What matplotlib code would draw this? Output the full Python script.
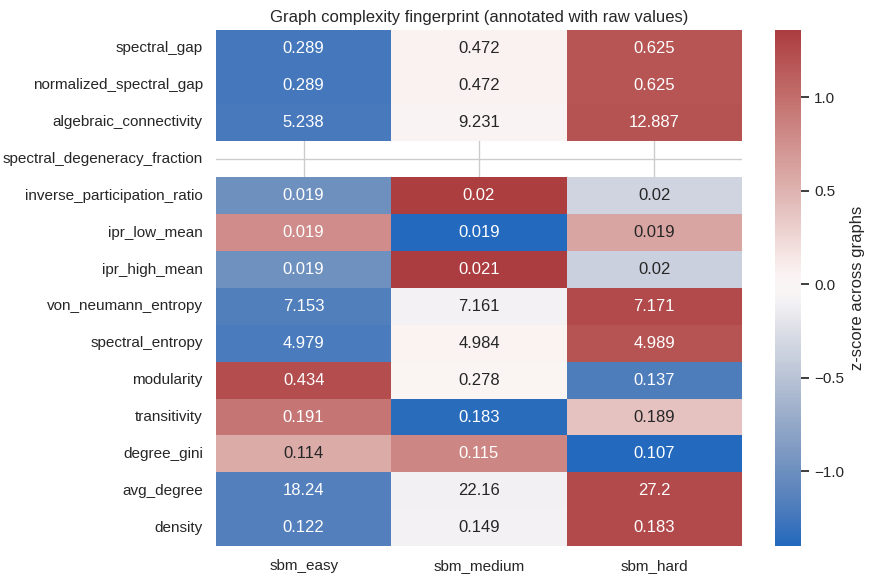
import numpy as np
import matplotlib
matplotlib.use("Agg")
import matplotlib.pyplot as plt
import seaborn as sns

metrics = [
    "spectral_gap", "normalized_spectral_gap", "algebraic_connectivity",
    "spectral_degeneracy_fraction", "inverse_participation_ratio",
    "ipr_low_mean", "ipr_high_mean", "von_neumann_entropy",
    "spectral_entropy", "modularity", "transitivity", "degree_gini",
    "avg_degree", "density",
]
graphs = ["sbm_easy", "sbm_medium", "sbm_hard"]

# raw values shown in the cells (as printed)
raw_labels = [
    ["0.289", "0.472", "0.625"],
    ["0.289", "0.472", "0.625"],
    ["5.238", "9.231", "12.887"],
    ["", "", ""],
    ["0.019", "0.02", "0.02"],
    ["0.019", "0.019", "0.019"],
    ["0.019", "0.021", "0.02"],
    ["7.153", "7.161", "7.171"],
    ["4.979", "4.984", "4.989"],
    ["0.434", "0.278", "0.137"],
    ["0.191", "0.183", "0.189"],
    ["0.114", "0.115", "0.107"],
    ["18.24", "22.16", "27.2"],
    ["0.122", "0.149", "0.183"],
]

# z-scores across graphs (colour of each cell)
zscores = [
    [-1.24, 0.06, 1.18],
    [-1.24, 0.06, 1.18],
    [-1.22, 0.04, 1.20],
    [np.nan, np.nan, np.nan],
    [-1.00, 1.34, -0.34],
    [0.78, -1.40, 0.60],
    [-0.98, 1.36, -0.38],
    [-1.17, -0.09, 1.26],
    [-1.21, 0.05, 1.19],
    [1.24, 0.03, -1.19],
    [0.95, -1.36, 0.40],
    [0.56, 0.83, -1.39],
    [-1.16, -0.10, 1.26],
    [-1.16, -0.09, 1.26],
]

sns.set_theme(style="whitegrid")
plt.rcParams["font.family"] = ["Liberation Sans", "DejaVu Sans"]

z = np.array(zscores, dtype=float)
labels = np.array(raw_labels)

fig = plt.figure(figsize=(8.74, 5.84), dpi=100)
ax = fig.add_axes([0.2471, 0.065, 0.6018, 0.8836])
cax = fig.add_axes([0.8867, 0.065, 0.0298, 0.8836])
sns.heatmap(z, annot=labels, fmt="", cmap="vlag", center=0,
            xticklabels=graphs, yticklabels=metrics,
            cbar_ax=cax, cbar_kws={"label": "z-score across graphs"}, ax=ax)
ax.set_title("Graph complexity fingerprint (annotated with raw values)")
fig.savefig("out.png")
